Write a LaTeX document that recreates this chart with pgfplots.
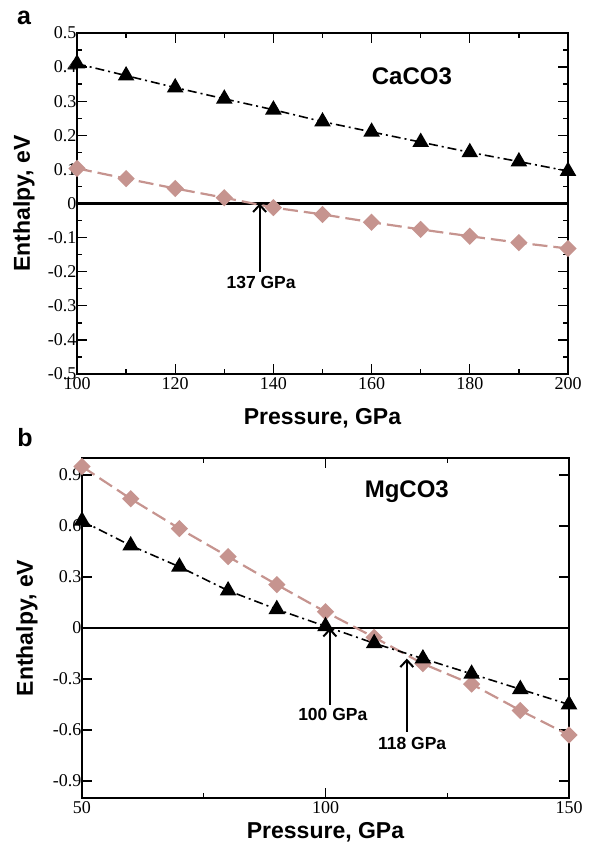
\documentclass[border=0pt]{standalone}
\usepackage{pgfplots}
\pgfplotsset{compat=1.18}
\usepackage{fontspec}
\setmainfont{Liberation Serif}
\newfontfamily\lsans{Liberation Sans}
\usetikzlibrary{arrows.meta}
\definecolor{rosy}{RGB}{198,148,143}

\pgfplotsset{
  common/.style={
    scale only axis,
    anchor=south west,
    axis line style={line width=1.3pt},
    every tick/.style={line width=1.3pt, black},
    major tick length=10pt, minor tick length=5pt,
    tick align=inside,
    xtick pos=both, ytick pos=both,
    xticklabel pos=lower, yticklabel pos=left,
    /pgf/number format/assume math mode=true,
    tick label style={font=\fontsize{18}{18}\selectfont},
    yticklabel style={xshift=3pt},
    every axis y label/.style={rotate=90, anchor=center, font=\lsans\bfseries\fontsize{23}{23}\selectfont},
    every axis x label/.style={anchor=base, font=\lsans\bfseries\fontsize{23}{23}\selectfont},
    clip=false,
  },
  tri/.style={black, line width=1.6pt, dash pattern=on 9pt off 4pt on 2pt off 4pt,
    mark=triangle*, mark size=8pt, mark options={solid, fill=black}},
  dia/.style={rosy, line width=2.2pt, dash pattern=on 15pt off 6pt,
    mark=square*, mark size=5pt, mark options={solid, fill=rosy, rotate=45}},
  zero/.style={black, line width=2.5pt, no marks, solid},
}
\tikzset{
  ann/.style={font=\lsans\bfseries\fontsize{17.5}{17.5}\selectfont},
  arr/.style={line width=2pt, -{Straight Barb[length=7pt,width=13pt,line width=2pt]}},
}

\begin{document}
\begin{tikzpicture}
\useasboundingbox (0pt,0pt) rectangle (595pt,-851pt);

% ---------------- panel a ----------------
\begin{axis}[common, at={(77pt,-374pt)}, width=491pt, height=341pt,
  xmin=100, xmax=200, ymin=-0.5, ymax=0.5,
  xtick={100,120,140,160,180,200}, minor xtick={110,130,150,170,190},
  ytick={-0.5,-0.4,-0.3,-0.2,-0.1,0,0.1,0.2,0.3,0.4,0.5},
  minor ytick={-0.45,-0.35,-0.25,-0.15,-0.05,0.05,0.15,0.25,0.35,0.45},
  xlabel={Pressure, GPa}, ylabel={Enthalpy, eV},
  xlabel style={at={(axis description cs:0.5,-0.147)}},
  ylabel style={at={(axis description cs:-0.108,0.5)}},
]
\addplot[zero] coordinates {(100,0) (200,0)};
\addplot[dia] coordinates {
 (100,0.103) (110,0.073) (120,0.044) (130,0.017) (140,-0.012) (150,-0.032)
 (160,-0.055) (170,-0.076) (180,-0.096) (190,-0.115) (200,-0.132)};
\addplot[tri] coordinates {
 (100,0.41) (110,0.375) (120,0.34) (130,0.307) (140,0.275) (150,0.24)
 (160,0.21) (170,0.18) (180,0.15) (190,0.123) (200,0.095)};
\draw[arr] (axis cs:137.2,-0.2) -- (axis cs:137.2,0);
\node[ann] at (axis cs:137.5,-0.232) {137 GPa};
\node[font=\lsans\bfseries\fontsize{24}{24}\selectfont] at (axis cs:168.2,0.374) {CaCO3};
\end{axis}
\node[font=\lsans\bfseries\fontsize{25}{25}\selectfont] at (24pt,-18pt) {a};

% ---------------- panel b ----------------
\begin{axis}[common, at={(82pt,-798pt)}, width=487pt, height=340pt,
  xmin=50, xmax=150, ymin=-1, ymax=1,
  xtick={50,100,150}, minor xtick={75,125},
  ytick={-0.9,-0.6,-0.3,0,0.3,0.6,0.9},
  xlabel={Pressure, GPa}, ylabel={Enthalpy, eV},
  xlabel style={at={(axis description cs:0.5,-0.118)}},
  ylabel style={at={(axis description cs:-0.113,0.5)}},
]
\addplot[zero, line width=2pt] coordinates {(50,0) (150,0)};
\addplot[dia] coordinates {
 (50,0.95) (60,0.76) (70,0.585) (80,0.42) (90,0.255) (100,0.095)
 (110,-0.055) (120,-0.21) (130,-0.33) (140,-0.485) (150,-0.63)};
\addplot[tri] coordinates {
 (50,0.63) (60,0.485) (70,0.36) (80,0.22) (90,0.11) (100,0.01)
 (110,-0.09) (120,-0.18) (130,-0.27) (140,-0.36) (150,-0.45)};
\draw[arr] (axis cs:100.9,-0.45) -- (axis cs:100.9,0);
\node[ann] at (axis cs:101.5,-0.51) {100 GPa};
\draw[arr] (axis cs:116.7,-0.61) -- (axis cs:116.7,-0.18);
\node[ann] at (axis cs:117.8,-0.68) {118 GPa};
\node[font=\lsans\bfseries\fontsize{24}{24}\selectfont] at (axis cs:116.7,0.8) {MgCO3};
\end{axis}
\node[font=\lsans\bfseries\fontsize{25}{25}\selectfont] at (25pt,-438pt) {b};
\end{tikzpicture}
\end{document}
